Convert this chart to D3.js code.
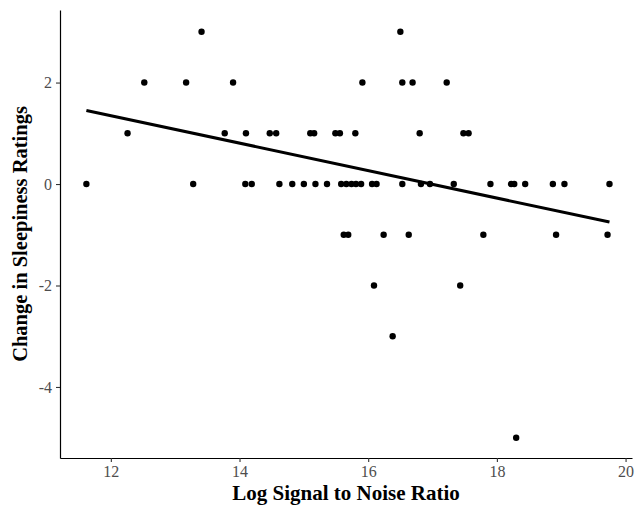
<!DOCTYPE html>
<html>
<head>
<meta charset="utf-8">
<script src="https://cdn.jsdelivr.net/npm/d3@7"></script>
<style>
  body { margin: 0; background: #fff; }
  svg { display: block; font-family: "Liberation Serif", "DejaVu Serif", serif; }
</style>
</head>
<body>
<script>
// log signal-to-noise ratio and change in sleepiness, one pair per participant
const snr = [
  13.41, 16.50,
  12.52, 13.17, 13.90, 15.91, 16.53, 16.69, 17.22,
  12.26, 13.77, 14.10, 14.47, 14.57, 15.10, 15.16, 15.49, 15.56, 15.80, 16.80, 17.48, 17.56,
  11.62, 13.28, 14.09, 14.19, 14.62, 14.82, 15.00, 15.18, 15.36, 15.58, 15.66, 15.74, 15.81, 15.89,
  16.06, 16.13, 16.53, 16.82, 16.96, 17.33, 17.90, 18.22, 18.27, 18.44, 18.87, 19.05, 19.75,
  15.62, 15.69, 16.24, 16.63, 17.79, 18.92, 19.72,
  16.09, 17.43,
  16.38,
  18.30
];
const sleepChange = [
  3, 3,
  2, 2, 2, 2, 2, 2, 2,
  1, 1, 1, 1, 1, 1, 1, 1, 1, 1, 1, 1, 1,
  0, 0, 0, 0, 0, 0, 0, 0, 0, 0, 0, 0, 0, 0,
  0, 0, 0, 0, 0, 0, 0, 0, 0, 0, 0, 0, 0,
  -1, -1, -1, -1, -1, -1, -1,
  -2, -2,
  -3,
  -5
];
// fitted regression line ends
const fitX = [11.62, 19.75];
const fitY = [1.45, -0.75];
const xTicks = [12, 14, 16, 18, 20];
const yTicks = [-4, -2, 0, 2];

const width = 640, height = 506;
const plotLeft = 60, plotRight = 632, plotTop = 10, plotBottom = 458;

const svg = d3.select("body").append("svg")
    .attr("width", width).attr("height", height);

const x = d3.scaleLinear().domain([11.21, 20.1]).range([plotLeft, plotRight]);
const y = d3.scaleLinear().domain([-5.4, 3.43]).range([plotBottom, plotTop]);

const xAxis = svg.append("g")
    .attr("transform", `translate(0,${plotBottom})`)
    .call(d3.axisBottom(x).tickValues(xTicks).tickSize(4).tickPadding(4).tickSizeOuter(0));
const yAxis = svg.append("g")
    .attr("transform", `translate(${plotLeft},0)`)
    .call(d3.axisLeft(y).tickValues(yTicks).tickSize(4).tickPadding(4).tickSizeOuter(0));

[xAxis, yAxis].forEach(ax => {
    ax.select(".domain").attr("stroke", "#000").attr("stroke-width", 1.2);
    ax.selectAll(".tick line").attr("stroke", "#333").attr("stroke-width", 1.1);
    ax.selectAll(".tick text")
        .attr("fill", "#4d4d4d")
        .style("font-family", "Liberation Serif, serif")
        .style("font-size", "16px");
});
yAxis.selectAll(".tick text").text(d => d < 0 ? "-" + Math.abs(d) : d);

svg.append("g").selectAll("circle")
    .data(snr.map((v, i) => [v, sleepChange[i]]))
    .join("circle")
    .attr("cx", d => x(d[0]))
    .attr("cy", d => y(d[1]))
    .attr("r", 3.2)
    .attr("fill", "#000");

svg.append("line")
    .attr("x1", x(fitX[0])).attr("y1", y(fitY[0]))
    .attr("x2", x(fitX[1])).attr("y2", y(fitY[1]))
    .attr("stroke", "#000")
    .attr("stroke-width", 3);

svg.append("text")
    .attr("x", (plotLeft + plotRight) / 2)
    .attr("y", 500)
    .attr("text-anchor", "middle")
    .style("font-size", "21px")
    .style("font-weight", "bold")
    .text("Log Signal to Noise Ratio");

svg.append("text")
    .attr("transform", `translate(27,${(plotTop + plotBottom) / 2}) rotate(-90)`)
    .attr("text-anchor", "middle")
    .style("font-size", "20.5px")
    .style("font-weight", "bold")
    .text("Change in Sleepiness Ratings");
</script>
</body>
</html>
